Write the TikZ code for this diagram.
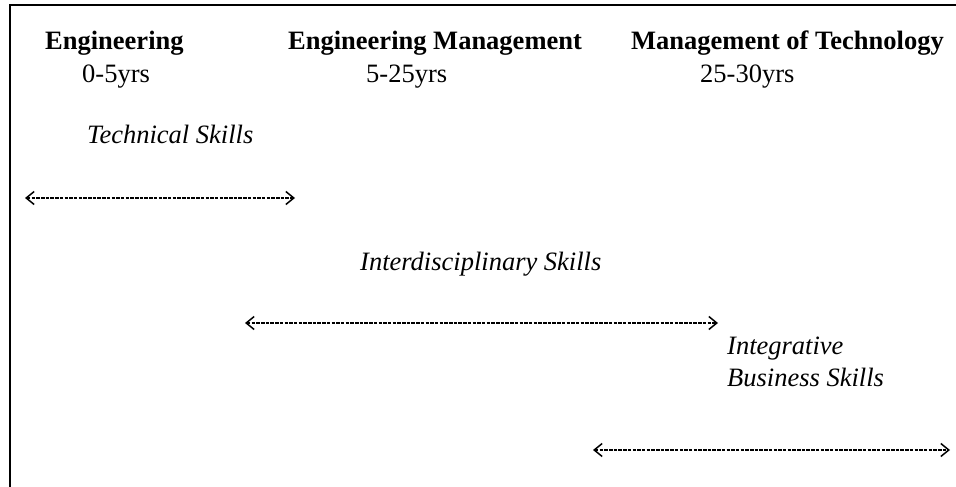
\documentclass[tikz,border=0pt]{standalone}
\usepackage{fontspec}
\setmainfont{Liberation Serif}
\usetikzlibrary{arrows.meta}

\begin{document}
\begin{tikzpicture}%
	[x=1pt, y=-1pt,
	frame/.style={color=black, line width=2.6pt},
	stage/.style={anchor=base west, inner sep=0pt, font=\fontsize{26.5}{30}\selectfont\bfseries},
	years/.style={anchor=base west, inner sep=0pt, font=\fontsize{26.5}{30}\selectfont},
	skill/.style={anchor=base west, inner sep=0pt, align=left, font=\fontsize{26.5}{32}\selectfont\itshape},
	span/.style={color=black, line width=1.8pt, dash pattern=on 3.5pt off 1.2pt,
		{Straight Barb[length=8pt,width=13pt,line width=1.5pt]}-{Straight Barb[length=8pt,width=13pt,line width=1.5pt]}}]
%
\useasboundingbox (0,0) rectangle (956,487);
%
%% Frame (top and left only)
%%
\draw[frame] (10,487) -- (10,5) -- (956,5);
%%
%% Career stages
%%
\node[stage] (eng)     at (45,50)  {Engineering};
\node[years] (eng-y)   at (82,82)  {0-5yrs};
\node[stage] (engman)  at (288,50) {Engineering Management};
\node[years] (engman-y) at (366,82) {5-25yrs};
\node[stage] (mot)     at (631,50) {Management of Technology};
\node[years] (mot-y)   at (700,82) {25-30yrs};
%%
%% Skills
%%
\node[skill] (tech)  at (87,143)  {Technical Skills};
\node[skill] (inter) at (360,270) {Interdisciplinary Skills};
\node[skill, anchor=north west] (integ) at (727,337) {Integrative\\Business Skills};
%%
%% Ranges
%%
\coordinate (tech-l)  at (25,198);
\coordinate (tech-r)  at (295,198);
\coordinate (inter-l) at (245,323);
\coordinate (inter-r) at (718,323);
\coordinate (integ-l) at (593,450);
\coordinate (integ-r) at (950,450);
\draw[span] (tech-l) -- (tech-r);
\draw[span] (inter-l) -- (inter-r);
\draw[span] (integ-l) -- (integ-r);
%%
\end{tikzpicture}
\end{document}
